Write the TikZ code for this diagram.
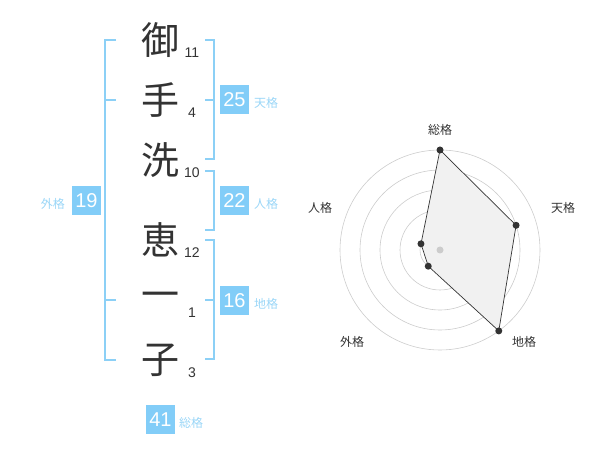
\documentclass[tikz,border=0pt]{standalone}
\usepackage{fontspec}
\setmainfont{Liberation Sans}
\newfontfamily\jpfont{Noto Sans CJK JP}
\usepackage{xcolor}
\usepackage{tikz}
\usetikzlibrary{positioning,calc}
\definecolor{kakublue}{HTML}{82CDF8}
\definecolor{kakuline}{HTML}{8CD0F6}
\definecolor{kakutext}{HTML}{9AD6F7}
\definecolor{inkgray}{HTML}{333333}
\definecolor{ringgray}{HTML}{CCCCCC}
\definecolor{areagray}{HTML}{F1F1F1}

\begin{document}
\begin{tikzpicture}[x=1pt, y=-1pt, every node/.style={inner sep=0pt},
    kanji/.style={font=\jpfont\fontsize{38}{38}\selectfont, text=inkgray},
    strokes/.style={font=\fontsize{14}{14}\selectfont, text=inkgray},
    bracket/.style={draw=kakuline, line width=2pt},
    kakubox/.style={fill=kakublue, minimum width=29pt, minimum height=29pt,
        text=white, font=\fontsize{20}{20}\selectfont},
    kakuname/.style={anchor=west, text=kakutext, font=\jpfont\fontsize{12}{12}\selectfont},
    axisname/.style={text=inkgray, font=\jpfont\fontsize{12}{12}\selectfont}]
    \useasboundingbox (0,0) rectangle (600,470);

    % Name characters and stroke counts
    \foreach \c/\n/\y/\k in {御/11/40/1, 手/4/100/2, 洗/10/160/3, 恵/12/240/4, 一/1/300/5, 子/3/360/6} {
        \node[kanji] (char\k) at (160,\y) {\c};
        \node[strokes] (num\k) at (192,\y+13) {\n};
    }

    % Left bracket (outer)
    \draw[bracket] (116,40) -- (105,40) -- (105,360) -- (116,360);
    \draw[bracket] (105,100) -- (116,100);
    \draw[bracket] (105,300) -- (116,300);
    \node[kakubox] (gai) at (86.5,200.5) {19};
    \node[kakuname, anchor=east] (gailabel) at (65,204) {外格};

    % Right brackets
    \draw[bracket] (205,40) -- (214,40) -- (214,159) -- (205,159);
    \draw[bracket] (205,100) -- (214,100);
    \node[kakubox] (ten) at (234.5,100) {25};
    \node[kakuname] (tenlabel) at (254,103) {天格};

    \draw[bracket] (205,171) -- (214,171) -- (214,230) -- (205,230);
    \node[kakubox] (jin) at (234.5,200.5) {22};
    \node[kakuname] (jinlabel) at (254,204) {人格};

    \draw[bracket] (205,240) -- (214,240) -- (214,359) -- (205,359);
    \draw[bracket] (205,300) -- (214,300);
    \node[kakubox] (chi) at (234.5,300.5) {16};
    \node[kakuname] (chilabel) at (254,304) {地格};

    % Total
    \node[kakubox] (sou) at (160.5,419.5) {41};
    \node[kakuname] (soulabel) at (179,423) {総格};

    % Radar chart
    \begin{scope}[shift={(440,250)}, y=1pt]
        \foreach \r in {20,40,...,100}
            \draw[ringgray, line width=0.6pt] (0,0) circle (\r);
        \fill[areagray] (90:100) -- (18:80) -- (-54:100) -- (-126:20) -- (162:20) -- cycle;
        \fill[ringgray] (0,0) circle (3.5);
        \draw[inkgray, line width=0.7pt] (90:100) coordinate (psou) -- (18:80) coordinate (pten)
            -- (-54:100) coordinate (pchi) -- (-126:20) coordinate (pgai)
            -- (162:20) coordinate (pjin) -- cycle;
        \foreach \p in {psou,pten,pchi,pgai,pjin}
            \fill[inkgray] (\p) circle (3.5);
        \node[axisname] (asou) at (0,120) {総格};
        \node[axisname] (aten) at (123,42) {天格};
        \node[axisname] (ajin) at (-120,42) {人格};
        \node[axisname] (agai) at (-88,-92) {外格};
        \node[axisname] (achi) at (84,-92) {地格};
    \end{scope}
\end{tikzpicture}
\end{document}
